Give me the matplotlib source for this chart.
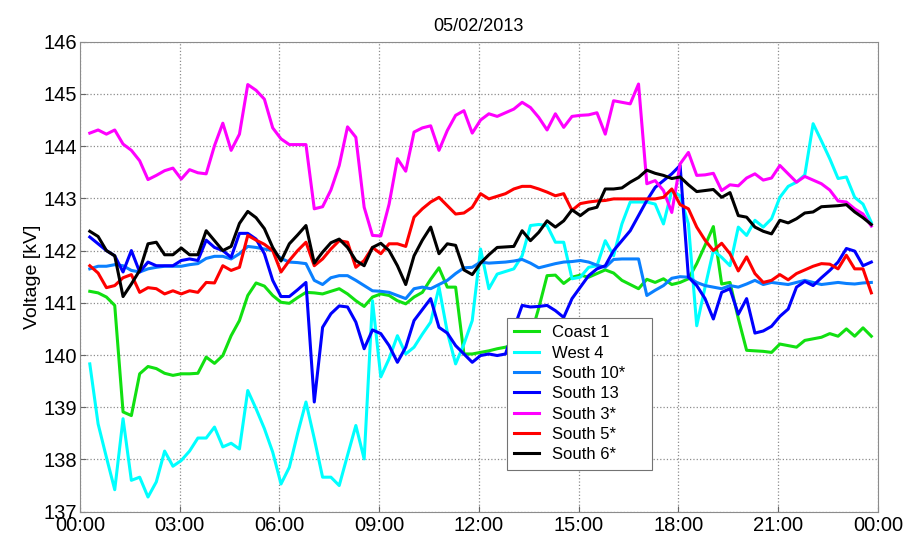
import numpy as np
import matplotlib
matplotlib.use("Agg")
import matplotlib.pyplot as plt

plt.rcParams['font.family'] = ['Liberation Sans', 'DejaVu Sans']

# 15-minute samples, hours after midnight
hours = 0.3 + 0.25 * np.arange(95)

coast_1 = [141.22, 141.19, 141.11, 140.95, 138.91, 138.84, 139.64, 139.78, 139.74, 139.65,
           139.61, 139.64, 139.64, 139.65, 139.96, 139.84, 139.99, 140.37, 140.66, 141.14,
           141.38, 141.32, 141.14, 141.01, 140.99, 141.10, 141.20, 141.19, 141.17, 141.22,
           141.27, 141.17, 141.04, 140.93, 141.11, 141.17, 141.14, 141.04, 140.98, 141.11,
           141.20, 141.45, 141.67, 141.30, 141.30, 140.02, 140.02, 140.05, 140.08, 140.12,
           140.15, 140.20, 140.25, 140.35, 140.90, 141.52, 141.53, 141.37, 141.49, 141.53,
           141.49, 141.56, 141.63, 141.57, 141.43, 141.35, 141.27, 141.45, 141.39, 141.46,
           141.35, 141.39, 141.46, 141.75, 142.10, 142.46, 141.36, 141.39, 140.70, 140.09,
           140.08, 140.07, 140.05, 140.21, 140.18, 140.15, 140.28, 140.31, 140.34, 140.41,
           140.36, 140.50, 140.36, 140.52, 140.36]

west_4 = [139.83, 138.68, 138.04, 137.42, 138.78, 137.60, 137.66, 137.28, 137.57, 138.16,
          137.87, 137.98, 138.16, 138.41, 138.41, 138.62, 138.24, 138.31, 138.20, 139.32,
          138.97, 138.59, 138.14, 137.53, 137.85, 138.50, 139.10, 138.40, 137.66, 137.66,
          137.50, 138.08, 138.65, 138.01, 141.04, 139.58, 139.93, 140.37, 140.02, 140.15,
          140.40, 140.63, 141.30, 140.44, 139.83, 140.21, 140.66, 142.03, 141.27, 141.55,
          141.60, 141.65, 141.90, 142.48, 142.50, 142.48, 142.16, 142.16, 141.46, 141.49,
          141.68, 141.71, 142.19, 141.90, 142.51, 142.93, 142.93, 142.93, 142.89, 142.51,
          143.15, 143.05, 142.51, 140.56, 141.30, 142.00, 141.87, 141.71, 142.45, 142.29,
          142.58, 142.45, 142.61, 143.02, 143.23, 143.31, 143.45, 144.43, 144.10, 143.76,
          143.38, 143.41, 143.02, 142.89, 142.54]

south_10 = [141.65, 141.70, 141.70, 141.73, 141.71, 141.62, 141.59, 141.65, 141.68, 141.70,
            141.70, 141.70, 141.73, 141.75, 141.85, 141.89, 141.89, 141.84, 141.94, 142.08,
            142.06, 142.03, 142.00, 141.85, 141.78, 141.77, 141.75, 141.43, 141.35, 141.48,
            141.52, 141.52, 141.43, 141.33, 141.23, 141.22, 141.20, 141.14, 141.08, 141.27,
            141.30, 141.27, 141.35, 141.43, 141.56, 141.67, 141.68, 141.78, 141.76, 141.77,
            141.78, 141.80, 141.83, 141.76, 141.67, 141.71, 141.75, 141.78, 141.79, 141.81,
            141.78, 141.72, 141.68, 141.83, 141.84, 141.84, 141.84, 141.14, 141.24, 141.33,
            141.47, 141.50, 141.49, 141.39, 141.33, 141.30, 141.27, 141.33, 141.30, 141.36,
            141.43, 141.35, 141.39, 141.37, 141.35, 141.39, 141.43, 141.39, 141.35, 141.37,
            141.39, 141.37, 141.36, 141.38, 141.39]

south_13 = [142.26, 142.13, 142.00, 141.90, 141.59, 142.00, 141.59, 141.78, 141.71, 141.71,
            141.71, 141.81, 141.84, 141.81, 142.20, 142.06, 142.00, 141.87, 142.33, 142.33,
            142.22, 141.94, 141.43, 141.12, 141.12, 141.25, 141.39, 139.10, 140.53, 140.79,
            140.94, 140.92, 140.63, 140.12, 140.48, 140.41, 140.18, 139.86, 140.15, 140.66,
            140.87, 141.08, 140.53, 140.42, 140.18, 140.02, 139.86, 139.99, 140.02, 139.99,
            140.02, 140.50, 140.95, 140.92, 140.93, 140.95, 140.85, 140.72, 141.08, 141.30,
            141.52, 141.65, 141.71, 142.00, 142.19, 142.38, 142.67, 142.96, 143.21, 143.34,
            143.47, 143.63, 141.49, 141.33, 141.08, 140.69, 141.20, 141.27, 140.78, 141.08,
            140.42, 140.46, 140.55, 140.74, 140.88, 141.30, 141.41, 141.33, 141.48, 141.62,
            141.78, 142.04, 141.99, 141.71, 141.78]

south_3 = [144.25, 144.31, 144.23, 144.31, 144.04, 143.92, 143.72, 143.36, 143.44, 143.53,
           143.58, 143.37, 143.55, 143.49, 143.47, 144.01, 144.44, 143.92, 144.23, 145.18,
           145.07, 144.90, 144.35, 144.14, 144.03, 144.03, 144.03, 142.80, 142.84, 143.16,
           143.63, 144.37, 144.17, 142.83, 142.29, 142.28, 142.89, 143.76, 143.52, 144.27,
           144.35, 144.39, 143.92, 144.30, 144.59, 144.68, 144.25, 144.50, 144.62, 144.57,
           144.64, 144.71, 144.84, 144.74, 144.55, 144.31, 144.62, 144.36, 144.57, 144.59,
           144.60, 144.64, 144.23, 144.87, 144.84, 144.81, 145.19, 143.28, 143.34, 143.15,
           142.73, 143.66, 143.88, 143.44, 143.45, 143.48, 143.15, 143.26, 143.24, 143.39,
           143.47, 143.35, 143.39, 143.63, 143.47, 143.31, 143.42, 143.35, 143.28, 143.16,
           142.95, 142.93, 142.80, 142.70, 142.47]

south_5 = [141.71, 141.57, 141.29, 141.33, 141.48, 141.54, 141.20, 141.29, 141.27, 141.17,
           141.23, 141.17, 141.23, 141.20, 141.39, 141.38, 141.71, 141.62, 141.68, 142.29,
           142.20, 142.12, 142.00, 141.59, 141.81, 142.00, 142.16, 141.71, 141.84, 142.03,
           142.19, 142.16, 141.68, 141.81, 142.06, 141.94, 142.13, 142.13, 142.08, 142.64,
           142.80, 142.93, 143.02, 142.86, 142.70, 142.72, 142.83, 143.09, 142.99, 143.04,
           143.09, 143.18, 143.23, 143.23, 143.18, 143.12, 143.05, 143.09, 142.77, 142.90,
           142.93, 142.95, 142.96, 142.99, 142.99, 142.99, 142.99, 142.99, 142.99, 143.02,
           143.18, 142.88, 142.80, 142.45, 142.20, 142.00, 142.14, 141.94, 141.61, 141.88,
           141.56, 141.39, 141.43, 141.54, 141.44, 141.56, 141.63, 141.70, 141.75, 141.74,
           141.65, 141.91, 141.65, 141.65, 141.19]

south_6 = [142.37, 142.27, 142.00, 141.90, 141.12, 141.36, 141.62, 142.13, 142.16, 141.92,
           141.92, 142.05, 141.92, 141.92, 142.38, 142.19, 142.00, 142.08, 142.52, 142.75,
           142.63, 142.42, 142.06, 141.80, 142.13, 142.30, 142.48, 141.76, 141.97, 142.15,
           142.22, 142.06, 141.81, 141.71, 142.06, 142.14, 142.00, 141.71, 141.35, 141.90,
           142.20, 142.45, 141.94, 142.13, 142.10, 141.63, 141.54, 141.76, 141.92, 142.06,
           142.07, 142.08, 142.38, 142.19, 142.35, 142.57, 142.45, 142.57, 142.78, 142.67,
           142.79, 142.83, 143.18, 143.18, 143.20, 143.31, 143.40, 143.54, 143.48, 143.44,
           143.38, 143.41, 143.26, 143.13, 143.15, 143.17, 143.02, 143.11, 142.67, 142.64,
           142.45, 142.37, 142.32, 142.58, 142.53, 142.61, 142.72, 142.74, 142.84, 142.85,
           142.86, 142.88, 142.74, 142.63, 142.50]

series = [
    ('Coast 1', coast_1, '#11e011'),
    ('West 4', west_4, '#00ffff'),
    ('South 10*', south_10, '#0a80ff'),
    ('South 13', south_13, '#0000ff'),
    ('South 3*', south_3, '#ff00ff'),
    ('South 5*', south_5, '#ff0000'),
    ('South 6*', south_6, '#000000'),
]

xtick_pos = np.arange(0, 25, 3)
xtick_labels = ['00:00', '03:00', '06:00', '09:00', '12:00', '15:00', '18:00', '21:00', '00:00']

fig = plt.figure(figsize=(9.07, 5.42), dpi=100)
ax = fig.add_axes([0.088, 0.056, 0.88, 0.867])

for name, vals, col in series:
    ax.plot(hours, vals, color=col, lw=2.2, label=name)

ax.set_xlim(0, 24)
ax.set_ylim(137, 146)
ax.set_xticks(xtick_pos)
ax.set_xticklabels(xtick_labels)
ax.set_yticks(np.arange(137, 147))
ax.tick_params(direction='in', labelsize=14.5, length=4, color='0.4', pad=2)
ax.tick_params(axis='x', pad=3)
ax.grid(True, linestyle=':', color='0.55', lw=0.9)
for sp in ax.spines.values():
    sp.set_color('0.55')

ax.set_title('05/02/2013', fontsize=13, pad=8)
ax.set_ylabel('Voltage [kV]', fontsize=14, labelpad=2)

# legend box stretched to the reference width
leg = ax.legend(loc='lower left', bbox_to_anchor=(0.535, 0.089, 0.182, 0.3), mode='expand',
                borderaxespad=0, fontsize=12, fancybox=False, framealpha=1, edgecolor='0.45',
                handlelength=1.5, handletextpad=0.75, labelspacing=0.32, borderpad=0.45)
leg.get_frame().set_linewidth(0.8)

fig.savefig('out.png', dpi=100)
